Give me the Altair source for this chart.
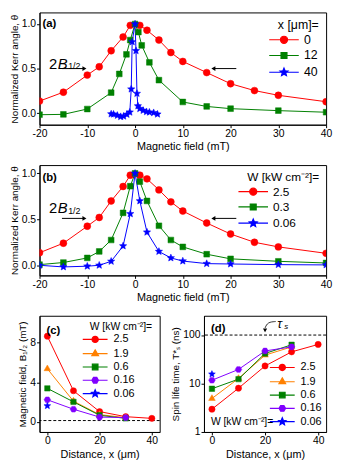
import math
import altair as alt
import pandas as pd

FONT = "Liberation Sans"
RED, GREEN, BLUE, ORANGE, PURPLE = "#ff0000", "#008000", "#0000ff", "#ff8000", "#8000ff"
MINUS = "\u2212"

# ---------------- data: panel (a)  (x in um) ----------------
a_series = ["0", "12", "40"]
a_B_0 = [-20, -15, -10, -7.5, -5, -2.5, -1, 1, 2.5, 5, 7.5, 10, 15, 20, 25, 30, 40]
a_K_0 = [0.135, 0.235, 0.427, 0.52, 0.70, 0.854, 0.985, 0.985, 0.93, 0.82, 0.68, 0.58, 0.455, 0.33, 0.253, 0.20, 0.128]
a_B_12 = [-20, -15, -10, -5, -3.3, -1.8, -1, 0, 0.7, 1.4, 3, 5, 10, 15, 20, 30, 40]
a_K_12 = [-0.018, -0.014, 0.046, 0.23, 0.44, 0.66, 0.82, 1.0, 0.91, 0.76, 0.57, 0.37, 0.125, 0.075, 0.05, 0.028, 0.01]
a_B_40 = [-5, -4.5, -3.7, -3, -2.4, -1.7, -1.1, -0.8, -0.6, 0, 0.2, 0.4, 0.6, 1.0, 1.7, 2.4, 3.0, 3.9, 4.7]
a_K_40 = [-0.01, -0.012, -0.026, -0.04, -0.035, -0.015, 0.01, 0.27, 0.80, 1.0, 0.70, 0.22, 0.08, 0.05, 0.03, 0.015, 0.01, 0.004, -0.012]

# ---------------- data: panel (b)  (W in kW cm^-2) ----------------
b_series = ["2.5", "0.3", "0.06"]
b_B_25 = [-20, -15, -10, -7.5, -5, -2.5, -1, 1, 2.5, 5, 7.5, 10, 15, 20, 25, 30, 40]
b_K_25 = [0.136, 0.24, 0.425, 0.52, 0.70, 0.857, 0.98, 0.98, 0.94, 0.82, 0.69, 0.59, 0.46, 0.34, 0.25, 0.20, 0.13]
b_B_03 = [-20, -15, -10, -7.5, -5, -2.5, -1, 0, 1, 2.5, 5, 7.5, 10, 15, 20, 30, 40]
b_K_03 = [0.007, 0.03, 0.08, 0.15, 0.275, 0.57, 0.86, 1.0, 0.91, 0.70, 0.43, 0.275, 0.20, 0.12, 0.07, 0.043, 0.025]
b_B_006 = [-20, -15, -10, -7.5, -5, -2.5, -1, 0, 1, 2.5, 5, 7.5, 10, 15, 20, 30, 40]
b_K_006 = [0.0, -0.018, -0.01, 0.0, 0.043, 0.21, 0.56, 1.0, 0.70, 0.36, 0.15, 0.08, 0.046, 0.018, 0.014, 0.007, 0.004]

# ---------------- data: panels (c), (d) ----------------
cd_series = ["2.5", "1.9", "0.6", "0.16", "0.06"]
c_x_25, c_B_25 = [0, 10, 20, 30, 40], [8.64, 3.15, 1.05, 0.54, 0.37]
c_x_19, c_B_19 = [0, 10, 20, 30], [5.36, 2.1, 0.75, 0.44]
c_x_06, c_B_06 = [0, 10, 20, 30], [3.39, 2.03, 0.68, 0.37]
c_x_016, c_B_016 = [0, 10, 20, 30], [2.24, 1.29, 0.5, 0.45]
c_x_006, c_B_006 = [0], [1.63]
c_dash = [0.15]

d_x_25, d_T_25 = [0, 10, 20, 30, 40], [2.95, 8.0, 23, 45, 64]
d_x_19, d_T_19 = [0, 10, 20, 30], [4.9, 12.7, 38.5, 57]
d_x_06, d_T_06 = [0, 10, 20, 30], [7.8, 12.3, 41.7, 63]
d_x_016, d_T_016 = [0, 10, 20, 30], [11.7, 19.5, 47, 57]
d_x_006, d_T_006 = [0], [15.6]
d_dash = [100]


def long_df(names, xs_list, ys_list, xn, yn):
    rows = []
    for s, xs, ys in zip(names, xs_list, ys_list):
        for xv, yv in zip(xs, ys):
            rows.append({xn: xv, yn: yv, "series": s})
    return pd.DataFrame(rows)


df_a = long_df(a_series, [a_B_0, a_B_12, a_B_40], [a_K_0, a_K_12, a_K_40], "B", "K")
df_b = long_df(b_series, [b_B_25, b_B_03, b_B_006], [b_K_25, b_K_03, b_K_006], "B", "K")
df_c = long_df(cd_series, [c_x_25, c_x_19, c_x_06, c_x_016, c_x_006],
               [c_B_25, c_B_19, c_B_06, c_B_016, c_B_006], "x", "v")
df_d = long_df(cd_series, [d_x_25, d_x_19, d_x_06, d_x_016, d_x_006],
               [d_T_25, d_T_19, d_T_06, d_T_016, d_T_006], "x", "v")


# ---------------- marker shapes (unit paths) ----------------
def circ(r):
    return f"M{r:.3f},0A{r:.3f},{r:.3f} 0 1,1 {-r:.3f},0A{r:.3f},{r:.3f} 0 1,1 {r:.3f},0Z"


def poly(n, R, rot, inner=None):
    pts = []
    k = 2 * n if inner else n
    for i in range(k):
        ang = rot + i * 2 * math.pi / k
        rad = R if (not inner or i % 2 == 0) else R * inner
        pts.append(f"{rad * math.cos(ang):.3f},{rad * math.sin(ang):.3f}")
    return "M" + "L".join(pts) + "Z"


def star(R):
    return poly(5, R, -math.pi / 2, inner=0.45)


def sq(a):
    return f"M{-a},{-a}H{a}V{a}H{-a}Z"


def tri(R):
    return poly(3, R, -math.pi / 2)


def hexa(R):
    return poly(6, R, 0)


def legline(marker, half):
    return f"M{-half:.2f},0H{half:.2f}" + marker


def panel(df, x_enc, y_enc, names, colors, vis, leg_shapes, legend, before, after, w, h):
    layers = list(before)
    for s, c in zip(names, colors):
        layers.append(alt.Chart(df).transform_filter(alt.datum.series == s).mark_line(
            strokeWidth=1, color=c, clip=True).encode(x=x_enc, y=y_enc))
    for s, c, (shp, sz) in zip(names, colors, vis):
        layers.append(alt.Chart(df).transform_filter(alt.datum.series == s).mark_point(
            shape=shp, size=sz, filled=True, fill=c, stroke=c, strokeWidth=0.5,
            opacity=1, clip=True).encode(x=x_enc, y=y_enc))
    cscale = alt.Scale(domain=names, range=colors)
    layers.append(alt.Chart(pd.DataFrame({"series": names})).mark_point(
        size=36, strokeWidth=1.2, opacity=1, clip=True).encode(
        x=alt.value(-80), y=alt.value(-80),
        fill=alt.Fill("series:N", scale=cscale, legend=legend),
        stroke=alt.Stroke("series:N", scale=cscale, legend=legend),
        shape=alt.Shape("series:N", scale=alt.Scale(domain=names, range=leg_shapes), legend=legend)))
    layers += list(after)
    return alt.layer(*layers).properties(width=w, height=h)


def mk_legend(title, orient, off, tsize, lsize, **kw):
    return alt.Legend(title=title, orient=orient, offset=off, direction="vertical",
                      padding=0, titleFont=FONT, titleFontSize=tsize, titleFontWeight="normal",
                      titleColor="black", labelFont=FONT, labelFontSize=lsize, labelColor="black",
                      symbolSize=36, symbolStrokeWidth=1.2, symbolOpacity=1, titlePadding=2, **kw)


def tag(xn, yn, xv, yv, label):
    return alt.Chart(pd.DataFrame({xn: [xv], yn: [yv], "t": [label]})).mark_text(
        font=FONT, fontSize=11.5, fontWeight="bold", align="left", color="black").encode(
        x=f"{xn}:Q", y=f"{yn}:Q", text="t:N")


def b_annot(ytext, ysub, yarrow):
    t1 = pd.DataFrame({"B": [-18.0], "K": [ytext], "t": ["2"]})
    t2 = pd.DataFrame({"B": [-16.2], "K": [ytext], "t": ["B"]})
    t3 = pd.DataFrame({"B": [-14.0], "K": [ysub], "t": ["1/2"]})
    ar = pd.DataFrame({"x1": [-15.3, 21.2], "x2": [-10.6, 16.4], "K": [yarrow, yarrow]})
    hr = pd.DataFrame({"B": [-10.6], "K": [yarrow]})
    hl = pd.DataFrame({"B": [16.4], "K": [yarrow]})
    X = alt.X("B:Q")
    Y = alt.Y("K:Q")
    return [
        alt.Chart(t1).mark_text(font=FONT, fontSize=15, align="left", color="black").encode(x=X, y=Y, text="t:N"),
        alt.Chart(t2).mark_text(font=FONT, fontSize=15, fontStyle="italic", align="left", color="black").encode(x=X, y=Y, text="t:N"),
        alt.Chart(t3).mark_text(font=FONT, fontSize=9, align="left", color="black").encode(x=X, y=Y, text="t:N"),
        alt.Chart(ar).mark_rule(color="black", strokeWidth=1).encode(x="x1:Q", x2="x2:Q", y=Y),
        alt.Chart(hr).mark_point(shape="triangle-right", size=22, filled=True, color="black", opacity=1).encode(x=X, y=Y),
        alt.Chart(hl).mark_point(shape="triangle-left", size=22, filled=True, color="black", opacity=1).encode(x=X, y=Y),
    ]


lab_fix = f"replace(datum.label, '{MINUS}', '-')"

WA, HA, HB, WC, WD, HC = 291, 114, 112, 122, 124, 118

xB = alt.X("B:Q", scale=alt.Scale(domain=[-20, 40], nice=False),
           axis=alt.Axis(values=[-20, -10, 0, 10, 20, 30, 40], title="Magnetic field (mT)",
                         labelExpr=lab_fix, labelFlush=False))
yA = alt.Y("K:Q", scale=alt.Scale(domain=[-0.13, 1.13], nice=False, zero=False),
           axis=alt.Axis(values=[0, 0.5, 1.0], format=".1f", title="Normalized Kerr angle, \u03b8",
                         titleFontSize=10))
yB = alt.Y("K:Q", scale=alt.Scale(domain=[-0.11, 1.09], nice=False, zero=False),
           axis=alt.Axis(values=[0, 0.5, 1.0], format=".1f", title="Normalized Kerr angle, \u03b8",
                         titleFontSize=10))

vis_ab = [("circle", 49), ("square", 34), (star(1), 60)]
leg_ab = [legline(circ(1.2), 5), legline(sq(1.0), 5), legline(star(1.4), 5)]

chart_a = panel(df_a, xB, yA, a_series, [RED, GREEN, BLUE], vis_ab, leg_ab,
                mk_legend("x [\u03bcm]=", "top-right", 7, 12.5, 12.5, labelOffset=14, rowPadding=3),
                [], b_annot(0.555, 0.525, 0.5) + [tag("B", "K", -19.4, 0.997, "(a)")], WA, HA)

chart_b = panel(df_b, xB, yB, b_series, [RED, GREEN, BLUE], vis_ab, leg_ab,
                mk_legend("W [kW cm\u207b\u00b2]=", "top-right", 7, 12, 12, labelOffset=14, rowPadding=3.5),
                [], b_annot(0.62, 0.595, 0.51) + [tag("B", "K", -19.4, 0.95, "(b)")], WA, HB)

xC = alt.X("x:Q", scale=alt.Scale(domain=[-3, 43], nice=False),
           axis=alt.Axis(values=[0, 10, 20, 30, 40], title="Distance, x (\u03bcm)", labelFlush=False))
yC = alt.Y("v:Q", scale=alt.Scale(domain=[-1, 10.7], nice=False, zero=False),
           axis=alt.Axis(values=[0, 2, 4, 6, 8, 10], title="Magnetic field, B\u2081/\u2082 (mT)",
                         titleFontSize=10))
yD = alt.Y("v:Q", scale=alt.Scale(type="log", domain=[1, 250], nice=False),
           axis=alt.Axis(values=[1, 10, 100], format="d", title="Spin life time, T*\u209b (ns)",
                         titleFontSize=10))

cd_colors = [RED, ORANGE, GREEN, PURPLE, BLUE]
vis_cd = [("circle", 40), (tri(1), 60), ("square", 30), (hexa(1), 44), (star(1), 52)]
leg_cd = [legline(circ(1.05), 4.2), legline(tri(1.3), 4.2), legline(sq(0.95), 4.2),
          legline(hexa(1.1), 4.2), legline(star(1.3), 4.2)]

dash_c = alt.Chart(pd.DataFrame({"v": c_dash})).mark_rule(
    color="black", strokeDash=[3, 2], strokeWidth=1).encode(y="v:Q")
dash_d = alt.Chart(pd.DataFrame({"v": d_dash})).mark_rule(
    color="black", strokeDash=[3, 2], strokeWidth=1).encode(y="v:Q")

tau_t = pd.DataFrame({"x": [24.6], "v": [165.0], "t": ["\u03c4"]})
tau_s = pd.DataFrame({"x": [27.2], "v": [148.0], "t": ["s"]})
tau_curve = pd.DataFrame({"x": [24.0, 21.0, 20.0], "v": [190.0, 185.0, 140.0], "o": [0, 1, 2]})
tau_head = pd.DataFrame({"x": [20.0], "v": [125.0]})
d_extra = [
    alt.Chart(tau_t).mark_text(font=FONT, fontSize=13, fontStyle="italic", align="left", color="black").encode(x="x:Q", y="v:Q", text="t:N"),
    alt.Chart(tau_s).mark_text(font=FONT, fontSize=8, fontStyle="italic", align="left", color="black").encode(x="x:Q", y="v:Q", text="t:N"),
    alt.Chart(tau_curve).mark_line(color="black", strokeWidth=0.8, interpolate="basis").encode(x="x:Q", y="v:Q", order="o:Q"),
    alt.Chart(tau_head).mark_point(shape="triangle-down", size=18, filled=True, color="black", opacity=1).encode(x="x:Q", y="v:Q"),
    tag("x", "v", -0.36, 130.0, "(d)"),
]

chart_c = panel(df_c, xC, yC, cd_series, cd_colors, vis_cd, leg_cd,
                mk_legend("W [kW cm\u207b\u00b2]=", "top-right", 6, 10.5, 11, labelOffset=13, rowPadding=1.5),
                [dash_c], [tag("x", "v", -0.36, 9.2, "(c)")], WC, HC)

chart_d = panel(df_d, xC, yD, cd_series, cd_colors, vis_cd, leg_cd,
                mk_legend("W [kW cm\u207b\u00b2]=", "bottom-right", 4, 10.5, 11, labelOffset=13, rowPadding=1.5,
                          titleOrient="left", titleAnchor="end"),
                [dash_d], d_extra, WD, HC)

ind = dict(x="independent", y="independent", fill="independent",
           stroke="independent", shape="independent")
lind = dict(fill="independent", stroke="independent", shape="independent")

row = alt.hconcat(chart_c, chart_d, spacing=45, bounds="flush").resolve_scale(**ind).resolve_legend(**lind)

chart = alt.vconcat(chart_a, chart_b, row, spacing=41, bounds="flush").resolve_scale(**ind).resolve_legend(
    **lind).properties(padding=0).configure(font=FONT).configure_view(
    stroke="black", strokeWidth=1).configure_axis(
    domainColor="black", domainWidth=1, tickColor="black", tickWidth=1, tickSize=3,
    labelColor="black", titleColor="black", labelFont=FONT, titleFont=FONT,
    labelFontSize=10.5, titleFontSize=11, titleFontWeight="normal", grid=False,
    labelPadding=1, titlePadding=2)

chart.save("out.html", embed_options={"renderer": "svg", "actions": False})
